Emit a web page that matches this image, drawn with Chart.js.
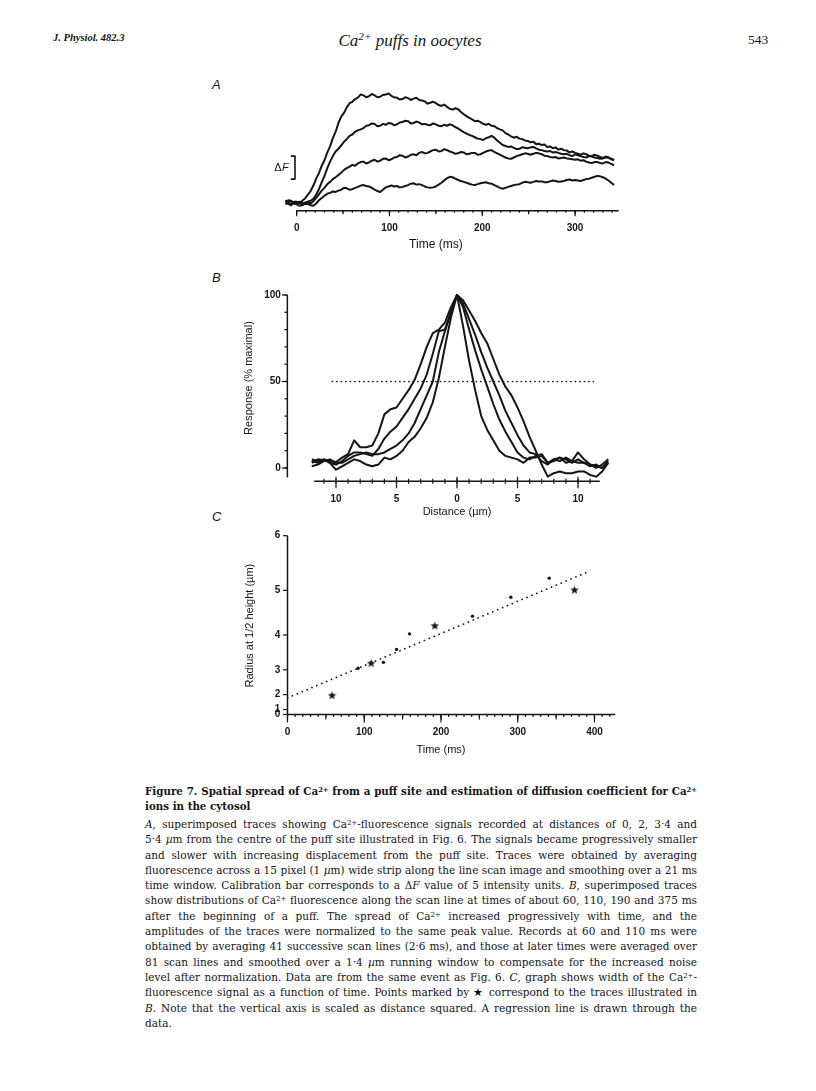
<!DOCTYPE html>
<html>
<head>
<meta charset="utf-8">
<title>Figure 7 - Ca2+ puffs in oocytes</title>
<script src="https://cdn.jsdelivr.net/npm/chart.js@4.4.1/dist/chart.umd.min.js"></script>
<style>
  html, body { margin: 0; padding: 0; background: #fff; }
  body { position: relative; width: 816px; height: 1091px; overflow: hidden; color: #151515; }
  canvas { position: absolute; }
  .txt { position: absolute; white-space: nowrap; line-height: 16px; }
  .panel { font-family: "Liberation Sans", Arial, sans-serif; font-style: italic; font-size: 13px; }
  .caption { position: absolute; left: 145px; width: 552px; font-family: "DejaVu Serif", "Liberation Serif", serif; font-size: 11px; }
  .caption div { text-align: justify; text-align-last: justify; }
  .caption div.last { text-align-last: left; }
  .caption.title div { font-weight: bold; line-height: 15px; }
  .caption.body div { line-height: 15.3px; }
  sup { font-size: 0.66em; line-height: 0; vertical-align: 0.5em; }
</style>
</head>
<body>

<div class="txt" style="left:53px;top:32px;font:italic bold 10.5px 'Liberation Serif',serif;">J. Physiol. 482.3</div>
<div class="txt" style="left:0;width:820px;text-align:center;top:31px;font:italic 17px 'Liberation Serif',serif;">Ca<sup>2+</sup> puffs in oocytes</div>
<div class="txt" style="left:748px;top:32px;font:13.5px 'Liberation Serif',serif;">543</div>

<div class="txt panel" style="left:212px;top:77px;">A</div>
<div class="txt panel" style="left:212px;top:270px;">B</div>
<div class="txt panel" style="left:212px;top:509px;">C</div>

<canvas id="chartA"></canvas>
<canvas id="chartB"></canvas>
<canvas id="chartC"></canvas>

<div class="caption title" style="top:784px;">
  <div>Figure 7. Spatial spread of Ca<sup>2+</sup> from a puff site and estimation of diffusion coefficient for Ca<sup>2+</sup></div>
  <div class="last">ions in the cytosol</div>
</div>
<div class="caption body" style="top:817px;">
  <div><i>A</i>, superimposed traces showing Ca<sup>2+</sup>-fluorescence signals recorded at distances of 0, 2, 3·4 and</div>
  <div>5·4 <i>µ</i>m from the centre of the puff site illustrated in Fig. 6. The signals became progressively smaller</div>
  <div>and slower with increasing displacement from the puff site. Traces were obtained by averaging</div>
  <div>fluorescence across a 15 pixel (1 <i>µ</i>m) wide strip along the line scan image and smoothing over a 21 ms</div>
  <div>time window. Calibration bar corresponds to a Δ<i>F</i> value of 5 intensity units. <i>B</i>, superimposed traces</div>
  <div>show distributions of Ca<sup>2+</sup> fluorescence along the scan line at times of about 60, 110, 190 and 375 ms</div>
  <div>after the beginning of a puff. The spread of Ca<sup>2+</sup> increased progressively with time, and the</div>
  <div>amplitudes of the traces were normalized to the same peak value. Records at 60 and 110 ms were</div>
  <div>obtained by averaging 41 successive scan lines (2·6 ms), and those at later times were averaged over</div>
  <div>81 scan lines and smoothed over a 1·4 <i>µ</i>m running window to compensate for the increased noise</div>
  <div>level after normalization. Data are from the same event as Fig. 6. <i>C</i>, graph shows width of the Ca<sup>2+</sup>-</div>
  <div>fluorescence signal as a function of time. Points marked by ★ correspond to the traces illustrated in</div>
  <div><i>B</i>. Note that the vertical axis is scaled as distance squared. A regression line is drawn through the</div>
  <div class="last">data.</div>
</div>

<script>
// ---------- panel A : fluorescence (ΔF, intensity units) against time
const timeMs = [-12, -9, -6, -3, 0, 3, 6, 9, 12, 15,
  18, 21, 24, 27, 30, 33, 36, 39, 42, 45,
  48, 51, 54, 57, 60, 63, 66, 69, 72, 75,
  78, 81, 84, 87, 90, 93, 96, 99, 102, 105,
  108, 111, 114, 117, 120, 123, 126, 129, 132, 135,
  138, 141, 144, 147, 150, 153, 156, 159, 162, 165,
  168, 171, 174, 177, 180, 183, 186, 189, 192, 195,
  198, 201, 204, 207, 210, 213, 216, 219, 222, 225,
  228, 231, 234, 237, 240, 243, 246, 249, 252, 255,
  258, 261, 264, 267, 270, 273, 276, 279, 282, 285,
  288, 291, 294, 297, 300, 303, 306, 309, 312, 315,
  318, 321, 324, 327, 330, 333, 336, 339, 342];
const dF_0um = [0.4, -0.2, -0.5, 0.3, 0.2, -0.1, 0.5, 1.0, 1.8, 2.6,
  3.8, 5.3, 6.5, 8.1, 9.3, 11.0, 12.3, 14.1, 15.5, 17.4,
  18.8, 19.6, 20.8, 21.7, 22.0, 22.6, 22.9, 23.6, 23.4, 23.0,
  23.2, 23.7, 23.4, 23.0, 23.1, 23.5, 23.6, 23.8, 23.3, 23.0,
  22.9, 22.5, 22.6, 23.0, 22.8, 22.4, 22.7, 22.9, 22.4, 22.3,
  22.1, 21.6, 21.8, 22.0, 21.7, 21.3, 21.1, 21.4, 20.9, 20.5,
  20.3, 20.6, 20.4, 19.8, 19.3, 18.9, 18.5, 18.2, 17.8, 17.9,
  17.6, 17.2, 17.0, 17.2, 16.8, 16.7, 16.3, 16.0, 15.8, 15.2,
  14.9, 14.5, 14.2, 14.4, 14.0, 13.9, 13.6, 13.5, 13.2, 13.3,
  12.8, 12.9, 12.6, 12.7, 12.2, 12.3, 11.9, 12.1, 11.6, 11.8,
  11.5, 11.4, 11.0, 11.2, 10.9, 10.7, 10.5, 10.8, 10.6, 10.3,
  10.2, 10.5, 10.3, 10.0, 9.8, 10.1, 9.9, 9.6, 9.4];
const dF_2um = [-0.3, 0.2, 0.4, -0.1, -0.2, 0.3, 0.1, -0.2, 0.3, 0.5,
  0.9, 1.8, 3.0, 4.5, 5.9, 7.6, 9.0, 10.2, 11.2, 11.8,
  12.5, 13.3, 13.9, 14.6, 14.9, 15.5, 15.8, 16.0, 16.3, 16.8,
  16.9, 17.3, 17.2, 16.7, 16.8, 17.2, 17.0, 17.4, 17.3, 16.9,
  17.1, 17.5, 17.6, 17.9, 17.8, 17.3, 17.4, 17.7, 17.5, 17.1,
  17.2, 17.0, 16.9, 17.3, 17.1, 16.8, 16.7, 17.0, 16.8, 17.1,
  16.9, 16.5, 16.2, 15.8, 15.4, 15.1, 14.8, 14.6, 14.3, 14.0,
  13.9, 13.7, 14.1, 14.3, 14.6, 14.2, 13.6, 13.1, 12.6, 12.4,
  12.2, 12.3, 12.0, 11.7, 11.8, 12.1, 12.0, 11.9, 12.1, 12.2,
  11.9, 11.6, 11.5, 11.3, 11.2, 11.3, 11.0, 11.1, 10.9, 10.7,
  10.6, 10.7, 10.4, 10.2, 10.6, 10.4, 10.2, 10.0, 9.9, 10.2,
  10.1, 9.9, 9.8, 9.6, 9.7, 9.9, 9.9, 9.5, 9.3];
const dF_3_4um = [0.6, 0.1, -0.4, 0.2, 0.3, 0.0, -0.2, 0.1, 0.2, -0.1,
  0.4, 1.1, 1.9, 2.7, 3.3, 4.1, 4.6, 5.2, 5.6, 6.1,
  6.6, 7.2, 7.6, 7.9, 8.3, 8.1, 8.6, 8.9, 9.0, 8.6,
  8.8, 9.2, 9.4, 9.0, 9.2, 9.6, 9.7, 9.3, 9.5, 9.9,
  10.0, 10.4, 10.3, 9.9, 10.1, 10.5, 10.6, 10.4, 10.9, 11.1,
  10.8, 10.9, 11.2, 11.5, 11.6, 11.2, 11.3, 11.7, 11.5, 11.2,
  11.0, 10.7, 10.8, 11.1, 11.0, 10.6, 10.7, 10.9, 10.9, 10.5,
  10.6, 10.9, 11.2, 11.4, 11.5, 11.1, 10.8, 10.5, 10.2, 9.9,
  9.7, 9.6, 9.9, 10.2, 10.4, 10.6, 10.8, 10.7, 10.5, 10.7,
  10.9, 10.8, 10.6, 10.3, 10.2, 10.0, 9.9, 10.0, 9.7, 9.8,
  9.9, 9.7, 9.6, 9.5, 9.4, 9.5, 9.2, 9.3, 9.0, 8.8,
  8.7, 8.9, 8.9, 8.7, 8.6, 8.9, 8.8, 8.5, 8.2];
const dF_5_4um = [0.2, 0.6, 0.5, -0.1, -0.3, -0.6, -0.5, -0.2, -0.2, -0.5,
  -0.6, -0.1, 0.6, 1.1, 1.6, 2.0, 2.2, 2.5, 2.4, 2.7,
  2.9, 3.3, 3.2, 2.9, 3.0, 3.3, 3.5, 3.8, 3.9, 3.7,
  3.6, 3.3, 2.9, 2.6, 2.4, 2.9, 3.4, 3.6, 3.8, 3.6,
  3.7, 3.4, 3.5, 3.7, 3.9, 4.2, 4.3, 4.0, 4.1, 3.9,
  3.6, 3.4, 3.3, 3.4, 3.6, 4.0, 4.4, 4.9, 5.4, 5.7,
  5.6, 5.3, 5.0, 4.8, 4.6, 4.4, 4.2, 4.0, 3.9, 4.1,
  4.3, 4.4, 4.5, 4.3, 4.2, 3.9, 3.6, 3.3, 3.1, 3.3,
  3.5, 3.7, 3.9, 4.0, 4.1, 4.4, 4.6, 4.5, 4.4, 4.6,
  4.8, 4.7, 4.7, 4.5, 4.5, 4.7, 4.9, 4.8, 4.6, 4.7,
  4.8, 5.0, 5.1, 4.9, 5.0, 4.9, 4.8, 5.0, 5.2, 5.3,
  5.5, 5.7, 5.9, 5.8, 5.6, 5.3, 4.9, 4.4, 3.9];
// calibration bracket: 5 intensity units
const calBarMs = [-6.3, -1.8, -1.8, -6.3];
const calBarF = [10.2, 10.2, 5.2, 5.2];

// ---------- panel B : normalised profiles along the scan line
const distUm = [-12, -11.5, -11, -10.5, -10, -9.5, -9, -8.5, -8, -7.5, -7, -6.5, -6, -5.5, -5, -4.5, -4, -3.5, -3, -2.5,
  -2, -1.5, -1, -0.5, 0, 0.5, 1, 1.5, 2, 2.5, 3, 3.5, 4, 4.5, 5, 5.5, 6, 6.5, 7, 7.5,
  8, 8.5, 9, 9.5, 10, 10.5, 11, 11.5, 12, 12.5];
const resp60ms = [5, 4, 5, 3, -1, 1, 3, 5, 4, 2, 1, 2, 6, 5, 7, 10, 15, 18, 23, 29,
  38, 52, 70, 87, 100, 82, 62, 45, 30, 22, 16, 10, 7, 6, 5, 3, 6, 6, 7, 3,
  4, 6, 5, 3, 5, 3, 2, 1, 0, 4];
const resp110ms = [1, 2, 4, 5, 3, 3, 5, 7, 8, 9, 8, 8, 9, 11, 13, 16, 20, 26, 34, 42,
  50, 67, 79, 90, 100, 93, 80, 68, 57, 47, 37, 28, 21, 15, 9, 6, 5, 7, 8, 3,
  5, 4, 6, 4, 3, 3, 1, 2, 0, 3];
const resp190ms = [4, 3, 5, 3, 2, 4, 7, 9, 9, 8, 7, 11, 17, 21, 24, 29, 34, 40, 46, 54,
  66, 79, 80, 90, 100, 95, 86, 77, 67, 58, 50, 42, 33, 26, 19, 13, 9, 8, 4, 2,
  5, 6, 3, 4, 9, 5, 2, 0, 2, 5];
const resp375ms = [3, 5, 4.5, 4, 3.5, 6, 8, 16, 12, 12, 13, 20, 31, 34, 35, 40, 45, 51, 60, 70,
  78, 80, 84, 93, 100, 97, 91, 85, 78, 72, 63, 54, 47, 42, 35, 27, 18, 10, 2, -5,
  -3, -2, -3, -3, -2, -2, -4, -5, -2, 3];
const halfLevelUm = [-10.3, 11.5];
const halfLevel = [50, 50];

// ---------- panel C : radius at half height against time
const starTimeMs = [58, 109, 192, 374];
const starRadiusUm = [1.97, 3.22, 4.23, 5.01];
const dotTimeMs = [92, 125, 142, 159, 241, 291, 341];
const dotRadiusUm = [3.05, 3.24, 3.62, 4.03, 4.45, 4.86, 5.24];
const fitTimeMs = [0, 390];
const fitRadiusUm = [1.83, 5.35];
const radiusTicks = [0, 1, 2, 3, 4, 5, 6];

const ink = '#151515';
const tickFont = 'bold 10px "Liberation Sans", Arial, sans-serif';
const titleFont = '11px "Liberation Sans", Arial, sans-serif';

// caption lines: one size for the block, largest that keeps every line inside the column
function fitLines(sel, width, maxSize) {
  const rows = Array.from(document.querySelectorAll(sel + ' div'));
  let scale = Infinity;
  rows.forEach(d => {
    d.style.whiteSpace = 'nowrap';
    const probe = document.createElement('span');
    while (d.firstChild) probe.appendChild(d.firstChild);
    d.appendChild(probe);
    const w = probe.getBoundingClientRect().width;
    const fs = parseFloat(getComputedStyle(d).fontSize);
    if (!d.classList.contains('last')) scale = Math.min(scale, width / w * fs);
    while (probe.firstChild) d.appendChild(probe.firstChild);
    probe.remove();
    d.style.whiteSpace = '';
  });
  const size = Math.min(maxSize, scale * 0.995);
  rows.forEach(d => { d.style.fontSize = size.toFixed(2) + 'px'; });
}
fitLines('.caption.title', 552, 12.5);
fitLines('.caption.body', 552, 12);

const pts = (xs, ys) => xs.map((x, i) => ({ x: x, y: ys[i] }));

function place(id, b) {
  const c = document.getElementById(id);
  c.width = b.w; c.height = b.h;
  c.style.left = b.x + 'px'; c.style.top = b.y + 'px';
  return c;
}
function padFor(b, a) {
  return { left: a.l - b.x, top: a.t - b.y, right: b.x + b.w - a.r, bottom: b.y + b.h - a.b };
}
function tickValues(from, to, step) {
  const out = [];
  for (let i = Math.ceil(from / step - 1e-9); i * step <= to + 1e-9; i++) out.push(i * step);
  return out;
}

// hand-drawn style axes, placed through the chart's own scales
function drawX(chart, a) {
  const ctx = chart.ctx, xs = chart.scales.x, ys = chart.scales.y;
  const y = ys.getPixelForValue(a.at);
  ctx.strokeStyle = ink; ctx.lineWidth = 1.5; ctx.lineCap = 'butt';
  ctx.beginPath();
  ctx.moveTo(xs.getPixelForValue(a.from), y);
  ctx.lineTo(xs.getPixelForValue(a.to), y);
  ctx.stroke();
  ctx.lineWidth = 1.2;
  a.ticks.forEach(t => {
    tickValues(a.from, a.to, t.step).forEach(v => {
      const x = xs.getPixelForValue(v);
      ctx.beginPath(); ctx.moveTo(x, y - (t.up || 0)); ctx.lineTo(x, y + (t.down || 0)); ctx.stroke();
    });
  });
  ctx.fillStyle = ink; ctx.font = tickFont; ctx.textAlign = 'center'; ctx.textBaseline = 'middle';
  a.labels.forEach(v => ctx.fillText(a.text ? a.text(v) : String(v), xs.getPixelForValue(v), y + a.labelDy));
  ctx.font = a.titleFont || titleFont;
  const mid = a.titleAt !== undefined ? xs.getPixelForValue(a.titleAt) : (xs.getPixelForValue(a.from) + xs.getPixelForValue(a.to)) / 2;
  ctx.fillText(a.title, mid, y + a.titleDy);
}
function drawY(chart, a) {
  const ctx = chart.ctx, xs = chart.scales.x, ys = chart.scales.y;
  const x = xs.getPixelForValue(a.at);
  ctx.strokeStyle = ink; ctx.lineWidth = 1.5; ctx.lineCap = 'butt';
  ctx.beginPath();
  ctx.moveTo(x, ys.getPixelForValue(a.from));
  ctx.lineTo(x, ys.getPixelForValue(a.to));
  ctx.stroke();
  ctx.lineWidth = 1.2;
  a.ticks.forEach(t => {
    const vals = t.values || tickValues(a.from, a.to, t.step);
    vals.forEach(v => {
      const y = ys.getPixelForValue(v);
      ctx.beginPath(); ctx.moveTo(x - t.left, y); ctx.lineTo(x, y); ctx.stroke();
    });
  });
  ctx.fillStyle = ink; ctx.font = tickFont; ctx.textAlign = 'right'; ctx.textBaseline = 'middle';
  a.labels.forEach((v, i) => ctx.fillText(a.texts ? a.texts[i] : String(v), x - a.labelDx, ys.getPixelForValue(v)));
  ctx.save();
  ctx.translate(x - a.titleDx, ys.getPixelForValue(a.titleAt));
  ctx.rotate(-Math.PI / 2);
  ctx.font = titleFont; ctx.textAlign = 'center';
  ctx.fillText(a.title, 0, 0);
  ctx.restore();
}
function axesPlugin(spec) {
  return {
    id: 'paperAxes',
    afterDraw(chart) {
      chart.ctx.save();
      (spec.x || []).forEach(a => drawX(chart, a));
      (spec.y || []).forEach(a => drawY(chart, a));
      if (spec.extra) spec.extra(chart);
      chart.ctx.restore();
    }
  };
}
function baseOptions(pad, xr, yr) {
  return {
    responsive: false, animation: false, events: [],
    layout: { padding: pad },
    plugins: { legend: { display: false }, tooltip: { enabled: false } },
    scales: {
      x: { type: 'linear', display: false, min: xr[0], max: xr[1] },
      y: { type: 'linear', display: false, min: yr[0], max: yr[1] }
    },
    elements: {
      point: { radius: 0 },
      line: { borderColor: ink, borderWidth: 2, tension: 0, borderJoinStyle: 'round' }
    }
  };
}
function traceSet(label, xs, ys) {
  return { label: label, data: pts(xs, ys), borderColor: ink, borderWidth: 2, pointRadius: 0, clip: false };
}

// ---------- chart A
const boxA = { x: 230, y: 75, w: 400, h: 185 };
const areaA = { l: 284.6, r: 618.7, t: 90, b: 210.7 };
new Chart(place('chartA', boxA), {
  type: 'line',
  data: {
    datasets: [
      traceSet('0 µm', timeMs, dF_0um),
      traceSet('2 µm', timeMs, dF_2um),
      traceSet('3·4 µm', timeMs, dF_3_4um),
      traceSet('5·4 µm', timeMs, dF_5_4um),
      { label: 'ΔF bar', data: pts(calBarMs, calBarF), borderColor: ink, borderWidth: 1.6, pointRadius: 0 }
    ]
  },
  options: baseOptions(padFor(boxA, areaA), [-13, 347], [-1.67, 24.57]),
  plugins: [axesPlugin({
    x: [{ at: -1.67, from: 0, to: 347,
          ticks: [{ step: 10, down: 2 }, { step: 50, down: 3.5 }, { step: 100, down: 5.5 }],
          labels: [0, 100, 200, 300], labelDy: 17.6,
          title: 'Time (ms)', titleDy: 34.3, titleAt: 150, titleFont: '12px "Liberation Sans", Arial, sans-serif' }],
    extra(chart) {
      const ctx = chart.ctx;
      const x = chart.scales.x.getPixelForValue(calBarMs[0]) - 2;
      const y = chart.scales.y.getPixelForValue((calBarF[1] + calBarF[2]) / 2);
      ctx.fillStyle = ink; ctx.textBaseline = 'middle'; ctx.textAlign = 'right';
      ctx.font = 'italic 11px "Liberation Sans", Arial, sans-serif';
      ctx.fillText('F', x, y);
      const w = ctx.measureText('F').width;
      ctx.font = '11px "Liberation Sans", Arial, sans-serif';
      ctx.fillText('Δ', x - w - 0.5, y);
    }
  })]
});

// ---------- chart B
const boxB = { x: 230, y: 270, w: 400, h: 255 };
const areaB = { l: 275.5, r: 614.3, t: 286.35, b: 485.3 };
new Chart(place('chartB', boxB), {
  type: 'line',
  data: {
    datasets: [
      traceSet('60 ms', distUm, resp60ms),
      traceSet('110 ms', distUm, resp110ms),
      traceSet('190 ms', distUm, resp190ms),
      traceSet('375 ms', distUm, resp375ms),
      { label: '50 %', data: pts(halfLevelUm, halfLevel), borderColor: ink, borderWidth: 1.7,
        borderDash: [0.1, 4.4], borderCapStyle: 'round', pointRadius: 0 }
    ]
  },
  options: baseOptions(padFor(boxB, areaB), [-15, 13], [-10, 105]),
  plugins: [axesPlugin({
    x: [{ at: -7.7, from: -11.8, to: 11.8,
          ticks: [{ step: 1, up: 2.5, down: 2.5 }, { step: 5, up: 4.6, down: 7 }],
          labels: [-10, -5, 0, 5, 10], text: v => String(Math.abs(v)), labelDy: 17.7,
          title: 'Distance (µm)', titleDy: 30.4, titleAt: 0 }],
    y: [{ at: -14.02, from: -5.4, to: 100,
          ticks: [{ step: 10, left: 3 }, { step: 50, left: 5.5 }],
          labels: [0, 50, 100], labelDx: 6.5,
          title: 'Response (% maximal)', titleDx: 38, titleAt: 52 }]
  })]
});

// ---------- chart C (vertical axis scaled as distance squared)
const starImg = (() => {
  const s = 9, c = document.createElement('canvas');
  c.width = c.height = s;
  const g = c.getContext('2d'), R = s / 2, r = R * 0.42;
  g.beginPath();
  for (let i = 0; i < 10; i++) {
    const ang = -Math.PI / 2 + i * Math.PI / 5, rad = i % 2 ? r : R;
    g.lineTo(R + rad * Math.cos(ang), R + 0.4 + rad * Math.sin(ang));
  }
  g.closePath(); g.fillStyle = ink; g.fill();
  return c;
})();
const sq = arr => arr.map(r => r * r);
const boxC = { x: 230, y: 515, w: 400, h: 250 };
const areaC = { l: 287.5, r: 615.2, t: 535.7, b: 714.5 };
new Chart(place('chartC', boxC), {
  type: 'scatter',
  data: {
    datasets: [
      { label: 'regression', data: pts(fitTimeMs, sq(fitRadiusUm)), showLine: true, borderColor: ink,
        borderWidth: 1.7, borderDash: [0.1, 5.2], borderCapStyle: 'round', pointRadius: 0 },
      { label: 'other records', data: pts(dotTimeMs, sq(dotRadiusUm)), pointRadius: 1.7,
        pointBackgroundColor: ink, pointBorderWidth: 0 },
      { label: 'traces in B', data: pts(starTimeMs, sq(starRadiusUm)), pointStyle: starImg, pointRadius: 5 }
    ]
  },
  options: baseOptions(padFor(boxC, areaC), [0, 427], [0, 36]),
  plugins: [axesPlugin({
    x: [{ at: 0, from: 0, to: 427,
          ticks: [{ step: 10, down: 2.5 }, { step: 50, down: 5 }, { step: 100, down: 8 }],
          labels: [0, 100, 200, 300, 400], labelDy: 17.4,
          title: 'Time (ms)', titleDy: 35, titleAt: 200 }],
    y: [{ at: 0, from: 0, to: 36,
          ticks: [{ values: sq(radiusTicks), left: 4.5 }],
          labels: sq(radiusTicks), texts: radiusTicks.map(String), labelDx: 7.3,
          title: 'Radius at 1/2 height (µm)', titleDx: 38, titleAt: 17.9 }]
  })]
});
</script>
</body>
</html>
